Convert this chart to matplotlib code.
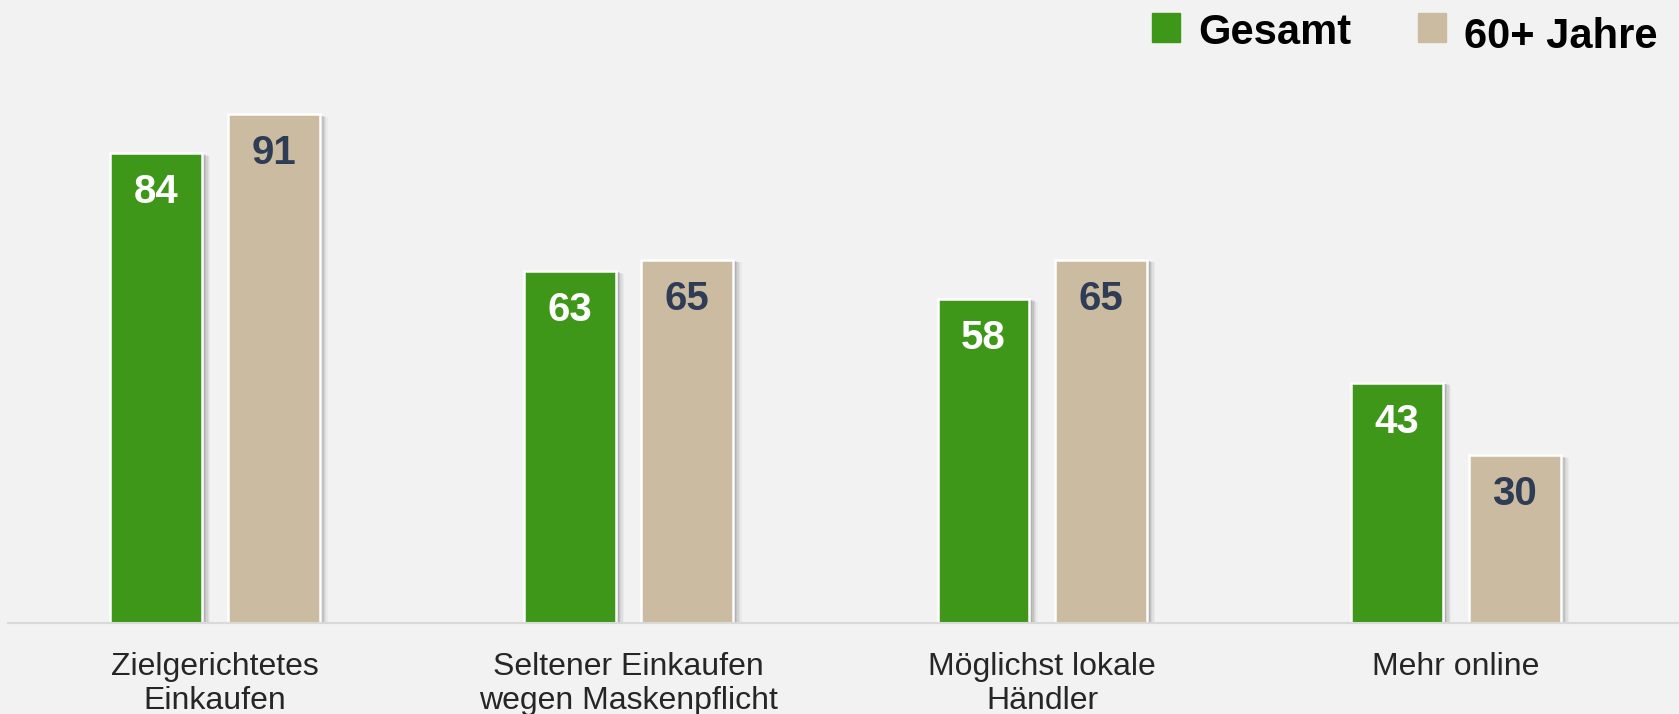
import matplotlib.pyplot as plt
import matplotlib.patheffects as pe
import numpy as np
from matplotlib.patches import Rectangle

plt.rcParams["font.family"] = ["Liberation Sans", "DejaVu Sans"]

CATEGORIES = ["Zielgerichtetes\nEinkaufen", "Seltener Einkaufen\nwegen Maskenpflicht",
              "Möglichst lokale\nHändler", "Mehr online"]
SERIES = ["Gesamt", "60+ Jahre"]
GESAMT = [84, 63, 58, 43]
SENIOREN = [91, 65, 65, 30]

GREEN = "#3E9718"
TAN = "#CBBBA0"
BG = "#F2F2F2"

W, H = 1679, 714
fig = plt.figure(figsize=(W / 100, H / 100), dpi=100, facecolor=BG)
ax = fig.add_axes([8 / W, 91 / H, 1 - 8 / W, 559 / H])
ax.set_facecolor(BG)

x = np.arange(len(CATEGORIES))
width = 0.222
offset = 0.142
# soft drop shadow built from a few layers
shadow = [pe.SimplePatchShadow(offset=(o, -o / 3), shadow_rgbFace="#6a6a6a", alpha=a)
          for o, a in [(6, 0.06), (5, 0.08), (4, 0.11), (3, 0.15), (2, 0.2)]] + [pe.Normal()]

for vals, dx, color, txt_color in [(GESAMT, -offset, GREEN, "white"),
                                   (SENIOREN, offset, TAN, "#2E3C55")]:
    bars = ax.bar(x + dx, vals, width, color=color, edgecolor="white", linewidth=1.8,
                  zorder=3, path_effects=shadow)
    for b, v in zip(bars, vals):
        ax.annotate(f"{v}", (b.get_x() + b.get_width() / 2, v), xytext=(0, -28),
                    textcoords="offset points", ha="center", va="center",
                    fontsize=29, fontweight="bold", color=txt_color, zorder=4)

ax.set_xlim(-0.5, (W - 8) / 413.7 - 0.5)
ax.set_ylim(0, 100)
ax.set_xticks(x)
ax.set_xticklabels(CATEGORIES, fontsize=23, color="#262626", linespacing=1.18)
ax.tick_params(axis="x", length=0, pad=21)
ax.set_yticks([])
for s in ["top", "right", "left"]:
    ax.spines[s].set_visible(False)
ax.spines["bottom"].set_color("#D9D9D9")
ax.spines["bottom"].set_linewidth(1.5)
ax.spines["bottom"].set_zorder(5)

# legend
for (lx, ty), label, color in [((1152, 33), SERIES[0], GREEN), ((1418, 37), SERIES[1], TAN)]:
    fig.patches.append(Rectangle((lx / W, 1 - 42 / H), 28 / W, 29 / H, color=color,
                                 transform=fig.transFigure))
    fig.text((lx + 46) / W, 1 - ty / H, label, fontsize=30, fontweight="bold",
             color="black", va="center", ha="left")

fig.savefig("out.png", dpi=100, facecolor=BG)
